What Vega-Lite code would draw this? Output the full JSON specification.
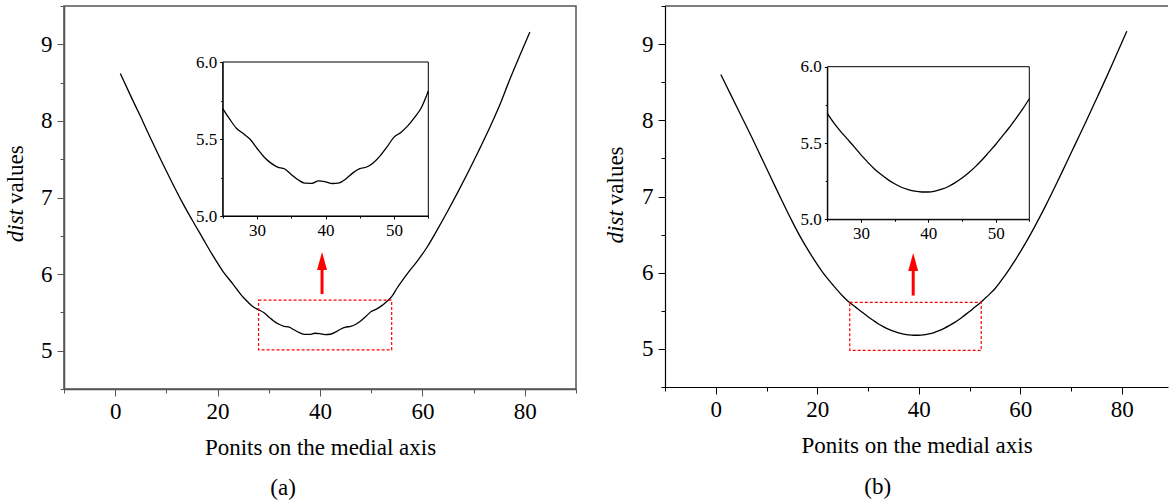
{
  "$schema": "https://vega.github.io/schema/vega-lite/v6.json",
  "autosize": {"type": "pad"},
  "padding": {"left": 4, "top": 4, "right": 0, "bottom": 0},
  "background": "white",
  "datasets": {
    "curveA": [
      {"x":1,"y":8.62},{"x":3,"y":8.33},{"x":5,"y":8.05},{"x":7,"y":7.76},{"x":9,"y":7.48},
      {"x":11,"y":7.21},{"x":13,"y":6.95},{"x":15,"y":6.71},{"x":17,"y":6.48},{"x":19,"y":6.25},
      {"x":21,"y":6.04},{"x":23,"y":5.87},{"x":25,"y":5.697},{"x":26,"y":5.63},{"x":27,"y":5.57},
      {"x":28,"y":5.535},{"x":29,"y":5.498},{"x":30,"y":5.44},{"x":31,"y":5.385},{"x":32,"y":5.345},
      {"x":33,"y":5.318},{"x":34,"y":5.307},{"x":35,"y":5.27},{"x":36,"y":5.235},{"x":37,"y":5.213},
      {"x":38,"y":5.212},{"x":39,"y":5.228},{"x":40,"y":5.222},{"x":41,"y":5.211},{"x":42,"y":5.215},
      {"x":43,"y":5.242},{"x":44,"y":5.28},{"x":45,"y":5.307},{"x":46,"y":5.318},{"x":47,"y":5.346},
      {"x":48,"y":5.392},{"x":49,"y":5.45},{"x":50,"y":5.512},{"x":51,"y":5.543},{"x":52,"y":5.585},
      {"x":53,"y":5.64},{"x":54,"y":5.705},{"x":55,"y":5.812},{"x":57,"y":6.0},{"x":59,"y":6.17},
      {"x":61,"y":6.36},{"x":63,"y":6.59},{"x":65,"y":6.83},{"x":67,"y":7.08},{"x":69,"y":7.34},
      {"x":71,"y":7.61},{"x":73,"y":7.89},{"x":75,"y":8.19},{"x":77,"y":8.53},{"x":79,"y":8.85},
      {"x":81,"y":9.16}
    ],
    "curveB": [
      {"x":1,"y":8.6},{"x":3,"y":8.33},{"x":5,"y":8.06},{"x":7,"y":7.79},{"x":9,"y":7.51},
      {"x":11,"y":7.23},{"x":13,"y":6.95},{"x":15,"y":6.68},{"x":17,"y":6.43},{"x":19,"y":6.21},
      {"x":21,"y":6.01},{"x":23,"y":5.845},{"x":25,"y":5.694},{"x":26,"y":5.63},{"x":27,"y":5.575},
      {"x":28,"y":5.525},{"x":29,"y":5.475},{"x":30,"y":5.422},{"x":31,"y":5.375},{"x":32,"y":5.33},
      {"x":33,"y":5.293},{"x":34,"y":5.26},{"x":35,"y":5.233},{"x":36,"y":5.21},{"x":37,"y":5.195},
      {"x":38,"y":5.184},{"x":39,"y":5.179},{"x":40,"y":5.179},{"x":41,"y":5.185},{"x":42,"y":5.197},
      {"x":43,"y":5.215},{"x":44,"y":5.24},{"x":45,"y":5.27},{"x":46,"y":5.305},{"x":47,"y":5.345},
      {"x":48,"y":5.39},{"x":49,"y":5.44},{"x":50,"y":5.49},{"x":51,"y":5.545},{"x":52,"y":5.6},
      {"x":53,"y":5.66},{"x":54,"y":5.722},{"x":55,"y":5.79},{"x":57,"y":5.965},{"x":59,"y":6.165},
      {"x":61,"y":6.385},{"x":63,"y":6.625},{"x":65,"y":6.88},{"x":67,"y":7.15},{"x":69,"y":7.43},
      {"x":71,"y":7.71},{"x":73,"y":7.99},{"x":75,"y":8.28},{"x":77,"y":8.57},{"x":79,"y":8.87},
      {"x":81,"y":9.17}
    ],
    "boxA": [{"x":28,"x2":54,"y":5.01,"y2":5.66}],
    "boxB": [{"x":26.4,"x2":52.3,"y":4.98,"y2":5.61}],
    "shaftA": [{"x":40.4,"y":5.74,"y2":6.09}],
    "headA": [{"x":40.4,"y":6.29}],
    "shaftB": [{"x":38.9,"y":5.7,"y2":6.05}],
    "headB": [{"x":38.9,"y":6.26}],
    "distA": [{"x":-19.3,"y":6.85,"t":"dist"}],
    "valuesA": [{"x":-19.3,"y":6.85,"t":"values"}],
    "capA": [{"x":32.8,"y":3.21,"t":"(a)"}],
    "distB": [{"x":-19.6,"y":6.82,"t":"dist"}],
    "valuesB": [{"x":-19.6,"y":6.82,"t":"values"}],
    "capB": [{"x":31.9,"y":3.19,"t":"(b)"}],
    "topB": [{"x":-10,"x2":89.1,"y":9.5}],
    "frame": [{"x":25,"x2":55,"y":5,"y2":6}]
  },
  "hconcat": [
    {
      "width": 512,
      "height": 383,
      "view": {"stroke": "#555", "strokeWidth": 1.5},
      "layer": [
        {
          "encoding": {
            "x": {"field": "x", "type": "quantitative",
              "scale": {"domain": [-10, 90], "nice": false, "zero": false},
              "axis": {"values": [-10,0,10,20,30,40,50,60,70,80,90],
                "labelExpr": "datum.value % 20 === 0 ? '' + datum.value : ''",
                "tickSize": {"condition": {"test": "datum.value % 20 === 0", "value": 7}, "value": 4},
                "domainColor": "#555", "domainWidth": 1.5, "tickColor": "#555",
                "labelPadding": 4, "title": "Ponits on the medial axis", "titlePadding": 13}},
            "y": {"field": "y", "type": "quantitative",
              "scale": {"domain": [4.5, 9.5], "nice": false, "zero": false},
              "axis": {"values": [4.5,5,5.5,6,6.5,7,7.5,8,8.5,9,9.5],
                "labelExpr": "datum.value % 1 === 0 ? '' + datum.value : ''",
                "tickSize": {"condition": {"test": "datum.value % 1 === 0", "value": 7}, "value": 4},
                "domainColor": "#555", "domainWidth": 1.5, "tickColor": "#555",
                "labelPadding": 5, "title": null}}
          },
          "layer": [
            {"data": {"name": "curveA"}, "mark": {"type": "line", "color": "black", "strokeWidth": 1.3, "interpolate": "monotone"}},
            {"data": {"name": "boxA"}, "mark": {"type": "rect", "fill": null, "stroke": "#ff0000", "strokeDash": [3, 2], "strokeWidth": 1.2},
              "encoding": {"x2": {"field": "x2"}, "y2": {"field": "y2"}}},
            {"data": {"name": "shaftA"}, "mark": {"type": "rule", "color": "#ff0000", "strokeWidth": 3},
              "encoding": {"y2": {"field": "y2"}}},
            {"data": {"name": "headA"}, "mark": {"type": "point", "shape": "M0,0L0.55,2L-0.55,2Z", "size": 324, "filled": true, "color": "#ff0000", "opacity": 1}},
            {"data": {"name": "distA"}, "mark": {"type": "text", "angle": 270, "align": "right", "baseline": "middle", "fontSize": 23, "fontStyle": "italic", "font": "Liberation Serif", "color": "black"},
              "encoding": {"text": {"field": "t"}}},
            {"data": {"name": "valuesA"}, "mark": {"type": "text", "angle": 270, "align": "left", "baseline": "middle", "dx": 5, "fontSize": 23, "font": "Liberation Serif", "color": "black"},
              "encoding": {"text": {"field": "t"}}},
            {"data": {"name": "capA"}, "mark": {"type": "text", "align": "center", "baseline": "middle", "fontSize": 23, "font": "Liberation Serif", "color": "black"},
              "encoding": {"text": {"field": "t"}}}
          ]
        },
        {
          "encoding": {
            "x": {"field": "x", "type": "quantitative",
              "scale": {"domain": [25, 55], "range": [158.7, 364.3], "nice": false, "zero": false},
              "axis": {"orient": "bottom", "offset": -173, "values": [25,30,35,40,45,50,55],
                "labelExpr": "datum.value % 10 === 0 ? '' + datum.value : ''",
                "tickSize": {"condition": {"test": "datum.value % 10 === 0", "value": 3}, "value": 2},
                "labelFontSize": 17, "labelPadding": 3, "title": null}},
            "y": {"field": "y", "type": "quantitative",
              "scale": {"domain": [5, 6], "range": [210, 56], "nice": false, "zero": false},
              "axis": {"orient": "left", "offset": -158.7, "values": [5,5.25,5.5,5.75,6],
                "labelExpr": "round(datum.value*100) % 50 === 0 ? format(datum.value, '.1f') : ''",
                "tickSize": {"condition": {"test": "round(datum.value*100) % 50 === 0", "value": 3}, "value": 2},
                "labelFontSize": 17, "labelPadding": 3, "title": null}}
          },
          "layer": [
            {"data": {"name": "frame"}, "mark": {"type": "rect", "fill": null, "stroke": "black", "strokeWidth": 1},
              "encoding": {"x2": {"field": "x2"}, "y2": {"field": "y2"}}},
            {"data": {"name": "curveA"}, "transform": [{"filter": "datum.x >= 25 && datum.x <= 55"}],
              "mark": {"type": "line", "color": "black", "strokeWidth": 1.3, "interpolate": "monotone"}}
          ]
        }
      ],
      "resolve": {"scale": {"x": "independent", "y": "independent"}}
    },
    {
      "width": 503,
      "height": 381,
      "view": {"stroke": null},
      "layer": [
        {
          "encoding": {
            "x": {"field": "x", "type": "quantitative",
              "scale": {"domain": [-10, 89.1], "nice": false, "zero": false},
              "axis": {"values": [-10,0,10,20,30,40,50,60,70,80],
                "labelExpr": "datum.value % 20 === 0 ? '' + datum.value : ''",
                "tickSize": {"condition": {"test": "datum.value % 20 === 0", "value": 7}, "value": 4},
                "domainWidth": 1.2,
                "labelPadding": 4, "title": "Ponits on the medial axis", "titlePadding": 13}},
            "y": {"field": "y", "type": "quantitative",
              "scale": {"domain": [4.5, 9.5], "nice": false, "zero": false},
              "axis": {"values": [4.5,5,5.5,6,6.5,7,7.5,8,8.5,9,9.5],
                "labelExpr": "datum.value % 1 === 0 ? '' + datum.value : ''",
                "tickSize": {"condition": {"test": "datum.value % 1 === 0", "value": 7}, "value": 4},
                "domainWidth": 1.2,
                "labelPadding": 5, "title": null}}
          },
          "layer": [
            {"data": {"name": "topB"}, "mark": {"type": "rule", "color": "black", "strokeWidth": 1.2},
              "encoding": {"x2": {"field": "x2"}}},
            {"data": {"name": "curveB"}, "mark": {"type": "line", "color": "black", "strokeWidth": 1.3, "interpolate": "monotone"}},
            {"data": {"name": "boxB"}, "mark": {"type": "rect", "fill": null, "stroke": "#ff0000", "strokeDash": [3, 2], "strokeWidth": 1.2},
              "encoding": {"x2": {"field": "x2"}, "y2": {"field": "y2"}}},
            {"data": {"name": "shaftB"}, "mark": {"type": "rule", "color": "#ff0000", "strokeWidth": 3},
              "encoding": {"y2": {"field": "y2"}}},
            {"data": {"name": "headB"}, "mark": {"type": "point", "shape": "M0,0L0.55,2L-0.55,2Z", "size": 324, "filled": true, "color": "#ff0000", "opacity": 1}},
            {"data": {"name": "distB"}, "mark": {"type": "text", "angle": 270, "align": "right", "baseline": "middle", "fontSize": 23, "fontStyle": "italic", "font": "Liberation Serif", "color": "black"},
              "encoding": {"text": {"field": "t"}}},
            {"data": {"name": "valuesB"}, "mark": {"type": "text", "angle": 270, "align": "left", "baseline": "middle", "dx": 5, "fontSize": 23, "font": "Liberation Serif", "color": "black"},
              "encoding": {"text": {"field": "t"}}},
            {"data": {"name": "capB"}, "mark": {"type": "text", "align": "center", "baseline": "middle", "fontSize": 23, "font": "Liberation Serif", "color": "black"},
              "encoding": {"text": {"field": "t"}}}
          ]
        },
        {
          "encoding": {
            "x": {"field": "x", "type": "quantitative",
              "scale": {"domain": [25, 55], "range": [162.3, 364.3], "nice": false, "zero": false},
              "axis": {"orient": "bottom", "offset": -167.7, "values": [25,30,35,40,45,50,55],
                "labelExpr": "datum.value % 10 === 0 ? '' + datum.value : ''",
                "tickSize": {"condition": {"test": "datum.value % 10 === 0", "value": 3}, "value": 2},
                "labelFontSize": 17, "labelPadding": 3, "title": null}},
            "y": {"field": "y", "type": "quantitative",
              "scale": {"domain": [5, 6], "range": [213.3, 60.7], "nice": false, "zero": false},
              "axis": {"orient": "left", "offset": -162.3, "values": [5,5.25,5.5,5.75,6],
                "labelExpr": "round(datum.value*100) % 50 === 0 ? format(datum.value, '.1f') : ''",
                "tickSize": {"condition": {"test": "round(datum.value*100) % 50 === 0", "value": 3}, "value": 2},
                "labelFontSize": 17, "labelPadding": 3, "title": null}}
          },
          "layer": [
            {"data": {"name": "frame"}, "mark": {"type": "rect", "fill": null, "stroke": "black", "strokeWidth": 1},
              "encoding": {"x2": {"field": "x2"}, "y2": {"field": "y2"}}},
            {"data": {"name": "curveB"}, "transform": [{"filter": "datum.x >= 25 && datum.x <= 55"}],
              "mark": {"type": "line", "color": "black", "strokeWidth": 1.3, "interpolate": "monotone"}}
          ]
        }
      ],
      "resolve": {"scale": {"x": "independent", "y": "independent"}}
    }
  ],
  "spacing": 89,
  "bounds": "flush",
  "config": {
    "font": "Liberation Serif",
    "axis": {"grid": false, "labelFont": "Liberation Serif", "labelFontSize": 23, "labelColor": "black",
      "tickColor": "black", "domainColor": "black", "titleFont": "Liberation Serif", "titleFontSize": 23,
      "titleFontWeight": "normal", "titleColor": "black"},
    "view": {"stroke": "black"}
  }
}
